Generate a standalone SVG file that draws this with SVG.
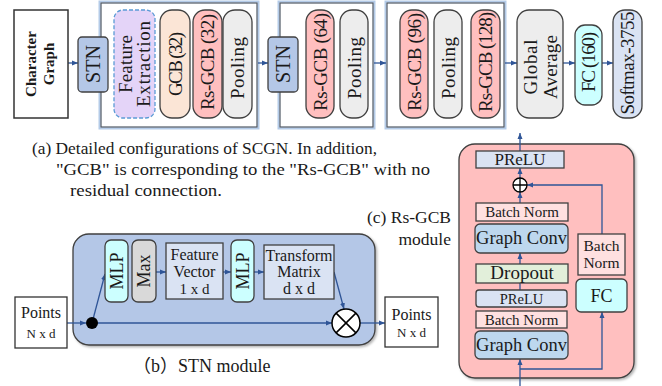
<svg xmlns="http://www.w3.org/2000/svg" width="662" height="386" viewBox="0 0 662 386">
<style>
text{font-family:"Liberation Serif","DejaVu Serif",serif;fill:#1a1a1a}
.v{text-anchor:middle;font-size:19px}
.c{text-anchor:middle}
.bx{stroke:#404040;stroke-width:1.3}
.grp{fill:none;stroke:#505050;stroke-width:1}
.grpo{fill:none;stroke:#b4cbe8;stroke-width:3}
.ln{fill:none;stroke:#2f5597;stroke-width:1.3}
.cap{font-size:17.5px}
</style>
<defs>
<marker id="ah" markerWidth="6" markerHeight="6" refX="6" refY="3" orient="auto" markerUnits="userSpaceOnUse"><path d="M0,0.5 L6,3 L0,5.5 z" fill="#2f5597"/></marker>
<filter id="sh" x="-10%" y="-10%" width="130%" height="130%"><feDropShadow dx="1.5" dy="1.5" stdDeviation="1" flood-color="#000" flood-opacity="0.3"/></filter>
</defs>

<!-- group frames -->
<g id="stage1">
<rect class="grpo" x="100" y="2" width="158" height="126"/>
<rect class="grp" x="101" y="3" width="156" height="124"/>
</g>
<g id="stage2">
<rect class="grpo" x="279" y="2" width="95" height="126"/>
<rect class="grp" x="280" y="3" width="93" height="124"/>
</g>
<g id="stage3">
<rect class="grpo" x="386" y="2" width="119" height="126"/>
<rect class="grp" x="387" y="3" width="117" height="124"/>
</g>

<g id="stn-module-bg">
<rect x="73" y="234" width="302" height="111" rx="16" fill="#b4c7e7" stroke="#404040" stroke-width="1.3" filter="url(#sh)"/>
</g>
<g id="rsgcb-module-bg">
<rect x="459" y="144" width="175" height="234" rx="16" fill="#ffbfbf" stroke="#404040" stroke-width="1.3" filter="url(#sh)"/>
</g>

<!-- connectors -->
<g id="connectors">
<line class="ln" x1="68" y1="63" x2="78" y2="63" marker-end="url(#ah)"/>
<line class="ln" x1="258" y1="63" x2="268" y2="63" marker-end="url(#ah)"/>
<line class="ln" x1="374" y1="63" x2="386" y2="63" marker-end="url(#ah)"/>
<line class="ln" x1="505" y1="63" x2="517" y2="63" marker-end="url(#ah)"/>
<line class="ln" x1="563" y1="63" x2="575" y2="63" marker-end="url(#ah)"/>
<line class="ln" x1="602" y1="63" x2="613" y2="63" marker-end="url(#ah)"/>

<!-- STN module -->
<line class="ln" x1="67" y1="323" x2="86" y2="323" marker-end="url(#ah)"/>
<line class="ln" x1="92" y1="323" x2="332" y2="323" marker-end="url(#ah)"/>
<line class="ln" x1="92" y1="323" x2="105" y2="274" marker-end="url(#ah)"/>
<line class="ln" x1="156" y1="272" x2="166" y2="272" marker-end="url(#ah)"/>
<line class="ln" x1="223" y1="272" x2="231" y2="272" marker-end="url(#ah)"/>
<line class="ln" x1="254" y1="272" x2="264" y2="272" marker-end="url(#ah)"/>
<line class="ln" x1="334" y1="272" x2="344" y2="309" marker-end="url(#ah)"/>
<line class="ln" x1="360" y1="323" x2="385" y2="323" marker-end="url(#ah)"/>

<!-- Rs-GCB module -->
<line class="ln" x1="520" y1="386" x2="520" y2="359" marker-end="url(#ah)"/>
<polyline class="ln" points="520,369 602,369 602,312" marker-end="url(#ah)"/>
<line class="ln" x1="520" y1="290" x2="520" y2="253" marker-end="url(#ah)"/>
<line class="ln" x1="520" y1="203" x2="520" y2="192" marker-end="url(#ah)"/>
<polyline class="ln" points="602,234 602,185 527,185" marker-end="url(#ah)"/>
<line class="ln" x1="520" y1="178" x2="520" y2="168" marker-end="url(#ah)"/>
<line class="ln" x1="520" y1="151" x2="520" y2="133" marker-end="url(#ah)"/>
</g>

<!-- top row nodes -->
<g id="char-graph">
<rect x="14" y="10" width="54" height="108" fill="#fff" stroke="#333" stroke-width="1.5"/>
<text class="v" transform="translate(31,64) rotate(-90)" dy="0.35em" style="font-size:15px;font-weight:bold">Character</text>
<text class="v" transform="translate(49,64) rotate(-90)" dy="0.35em" style="font-size:15px;font-weight:bold">Graph</text>
</g>
<g id="stn1">
<rect class="bx" x="78" y="37" width="30" height="55" rx="4" fill="#b4c7e7"/>
<text class="v" transform="translate(93,64) rotate(-90)" dy="0.35em" style="font-size:20px">STN</text>
</g>
<g id="feature-extraction">
<rect x="114" y="10" width="41" height="108" rx="9" fill="#e4d4f8" stroke="#5b9bd5" stroke-width="1.3" stroke-dasharray="4,2"/>
<text class="v" transform="translate(125.5,64) rotate(-90)" dy="0.35em" textLength="58">Feature</text>
<text class="v" transform="translate(143.5,64) rotate(-90)" dy="0.35em" textLength="86">Extraction</text>
</g>
<g id="gcb32">
<rect class="bx" x="160" y="10" width="30" height="108" rx="12" fill="#fbe5d6"/>
<text class="v" transform="translate(175,64) rotate(-90)" dy="0.35em" textLength="64">GCB (32)</text>
</g>
<g id="rsgcb32">
<rect class="bx" x="193" y="10" width="29" height="108" rx="12" fill="#ffbfbf"/>
<text class="v" transform="translate(207.5,62) rotate(-90)" dy="0.35em" textLength="96">Rs-GCB (32)</text>
</g>
<g id="pool1">
<rect class="bx" x="223" y="10" width="29" height="108" rx="12" fill="#ededed"/>
<text class="v" transform="translate(237.5,68) rotate(-90)" dy="0.35em" textLength="62">Pooling</text>
</g>
<g id="stn2">
<rect class="bx" x="268" y="37" width="30" height="55" rx="4" fill="#b4c7e7"/>
<text class="v" transform="translate(283,64) rotate(-90)" dy="0.35em" style="font-size:20px">STN</text>
</g>
<g id="rsgcb64">
<rect class="bx" x="306" y="10" width="28" height="108" rx="12" fill="#ffbfbf"/>
<text class="v" transform="translate(320,62) rotate(-90)" dy="0.35em" textLength="98">Rs-GCB (64)</text>
</g>
<g id="pool2">
<rect class="bx" x="340" y="10" width="28" height="108" rx="12" fill="#ededed"/>
<text class="v" transform="translate(354,68) rotate(-90)" dy="0.35em" textLength="62">Pooling</text>
</g>
<g id="rsgcb96">
<rect class="bx" x="400" y="10" width="28" height="108" rx="12" fill="#ffbfbf"/>
<text class="v" transform="translate(414,62) rotate(-90)" dy="0.35em" textLength="98">Rs-GCB (96)</text>
</g>
<g id="pool3">
<rect class="bx" x="434" y="10" width="28" height="108" rx="12" fill="#ededed"/>
<text class="v" transform="translate(448,68) rotate(-90)" dy="0.35em" textLength="62">Pooling</text>
</g>
<g id="rsgcb128">
<rect class="bx" x="471" y="10" width="29" height="108" rx="12" fill="#ffbfbf"/>
<text class="v" transform="translate(485.5,62) rotate(-90)" dy="0.35em" textLength="100">Rs-GCB (128)</text>
</g>
<g id="global-average">
<rect class="bx" x="517" y="10" width="46" height="108" rx="12" fill="#ededed"/>
<text class="v" transform="translate(530,67) rotate(-90)" dy="0.35em" textLength="55">Global</text>
<text class="v" transform="translate(550,67) rotate(-90)" dy="0.35em" textLength="64">Average</text>
</g>
<g id="fc160">
<rect class="bx" x="575" y="25" width="27" height="80" rx="10" fill="#ccffff"/>
<text class="v" transform="translate(588.5,62) rotate(-90)" dy="0.35em" textLength="60">FC (160)</text>
</g>
<g id="softmax">
<rect class="bx" x="613" y="10" width="29" height="108" rx="12" fill="#dae3f3"/>
<text class="v" transform="translate(627.5,63) rotate(-90)" dy="0.35em" textLength="103">Softmax-3755</text>
</g>

<!-- captions -->
<g id="caption-a" class="cap">
<text x="32" y="154" textLength="345" lengthAdjust="spacingAndGlyphs">(a) Detailed configurations of SCGN. In addition,</text>
<text x="56" y="175" textLength="374" lengthAdjust="spacingAndGlyphs">"GCB" is corresponding to the "Rs-GCB" with no</text>
<text x="70" y="196" textLength="152" lengthAdjust="spacingAndGlyphs">residual connection.</text>
</g>
<g id="caption-c" class="cap">
<text x="451" y="223" text-anchor="end">(c) Rs-GCB</text>
<text x="451" y="245" text-anchor="end">module</text>
</g>
<g id="caption-b">
<text x="133" y="372" style="font-size:18px;font-family:'Liberation Serif','Noto Sans CJK SC',serif">（b）STN module</text>
</g>

<!-- STN module nodes -->
<g id="points-in">
<rect x="15" y="297" width="52" height="51" fill="#fff" stroke="#333" stroke-width="1.3"/>
<text class="c" x="41" y="318" style="font-size:16px">Points</text>
<text class="c" x="41" y="338" style="font-size:13px">N x d</text>
</g>
<g id="split-dot"><circle cx="92" cy="323" r="6" fill="#000"/></g>
<g id="mlp1">
<rect class="bx" x="105" y="240" width="23" height="62" rx="6" fill="#ccffff"/>
<text class="v" transform="translate(116.5,271) rotate(-90)" dy="0.35em" style="font-size:18px">MLP</text>
</g>
<g id="max">
<rect class="bx" x="132" y="240" width="24" height="62" rx="6" fill="#d9d9d9"/>
<text class="v" transform="translate(144,271) rotate(-90)" dy="0.35em" style="font-size:18px">Max</text>
</g>
<g id="feature-vector">
<rect class="bx" x="166" y="243" width="57" height="56" fill="#dae3f3"/>
<text class="c" x="194.5" y="260" style="font-size:16px">Feature</text>
<text class="c" x="194.5" y="277" style="font-size:16px">Vector</text>
<text class="c" x="194.5" y="294" style="font-size:15px">1 x d</text>
</g>
<g id="mlp2">
<rect class="bx" x="231" y="240" width="23" height="62" rx="6" fill="#ccffff"/>
<text class="v" transform="translate(242.5,271) rotate(-90)" dy="0.35em" style="font-size:18px">MLP</text>
</g>
<g id="transform-matrix">
<rect class="bx" x="264" y="245" width="70" height="54" fill="#dae3f3"/>
<text class="c" x="299" y="261" style="font-size:16px">Transform</text>
<text class="c" x="299" y="277" style="font-size:16px">Matrix</text>
<text class="c" x="299" y="294" style="font-size:16px">d x d</text>
</g>
<g id="multiply">
<circle cx="346" cy="323" r="14" fill="#fff" stroke="#000" stroke-width="1.5"/>
<path d="M336.1,313.1 L355.9,332.9 M355.9,313.1 L336.1,332.9" stroke="#000" stroke-width="1.5"/>
</g>
<g id="points-out">
<rect x="385" y="297" width="53" height="50" fill="#fff" stroke="#333" stroke-width="1.3"/>
<text class="c" x="411.5" y="320" style="font-size:16px">Points</text>
<text class="c" x="411.5" y="337" style="font-size:13px">N x d</text>
</g>

<!-- Rs-GCB module nodes -->
<g id="prelu-top">
<rect class="bx" x="476" y="151" width="88" height="17" fill="#dae3f3"/>
<text class="c" x="520" y="165" style="font-size:17px">PReLU</text>
</g>
<g id="add">
<circle cx="520" cy="185" r="7" fill="#fff" stroke="#000" stroke-width="1.3"/>
<path d="M513,185 H527 M520,178 V192" stroke="#000" stroke-width="1.3"/>
</g>
<g id="bn1">
<rect class="bx" x="476" y="203" width="92" height="18" fill="#ffe0e0"/>
<text class="c" x="522" y="217" style="font-size:15px">Batch Norm</text>
</g>
<g id="gconv1">
<rect class="bx" x="475" y="224" width="93" height="29" rx="5" fill="#bdd7ee"/>
<text class="c" x="521.5" y="244" style="font-size:18.5px">Graph Conv</text>
</g>
<g id="dropout">
<rect class="bx" x="476" y="264" width="92" height="19" fill="#e2efda"/>
<text class="c" x="522" y="279" style="font-size:19px">Dropout</text>
</g>
<g id="prelu2">
<rect class="bx" x="476" y="290" width="91" height="17" rx="3" fill="#dae3f3"/>
<text class="c" x="521.5" y="304" style="font-size:14.5px">PReLU</text>
</g>
<g id="bn2">
<rect class="bx" x="476" y="311" width="91" height="17" fill="#ffe0e0"/>
<text class="c" x="521.5" y="325" style="font-size:15px">Batch Norm</text>
</g>
<g id="gconv2">
<rect class="bx" x="475" y="331" width="93" height="28" rx="5" fill="#bdd7ee"/>
<text class="c" x="521.5" y="351" style="font-size:18.5px">Graph Conv</text>
</g>
<g id="bn-right">
<rect class="bx" x="578" y="234" width="47" height="41" fill="#ffe0e0"/>
<text class="c" x="601.5" y="251" style="font-size:15.5px">Batch</text>
<text class="c" x="601.5" y="268" style="font-size:15.5px">Norm</text>
</g>
<g id="fc">
<rect class="bx" x="576" y="279" width="51" height="33" rx="5" fill="#ccffff"/>
<text class="c" x="601.5" y="302" style="font-size:18px">FC</text>
</g>
</svg>
